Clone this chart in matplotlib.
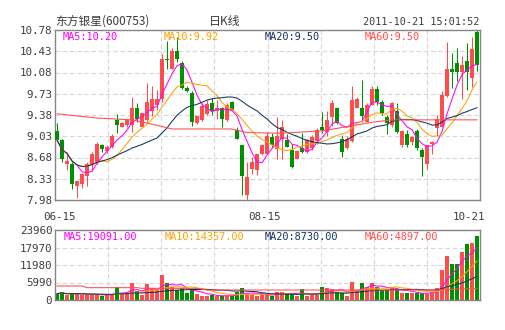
import numpy as np
import pandas as pd
import matplotlib
matplotlib.use('Agg')
import matplotlib.pyplot as plt

# Daily candles for 600753, 2011-06-15 .. 2011-10-21
opens = [9.12, 8.96, 8.58, 8.58, 8.21, 8.25, 8.37, 8.55, 8.61, 8.88,
         8.78, 8.86, 9.29, 9.19, 9.22, 9.21, 9.49, 9.19, 9.29, 9.45,
         9.54, 9.64, 10.31, 10.13, 10.43, 10.24, 9.83, 9.75, 9.24, 9.29,
         9.40, 9.57, 9.44, 9.49, 9.29, 9.60, 9.14, 8.88, 8.07, 8.49,
         8.47, 8.74, 8.74, 9.01, 8.82, 8.99, 8.97, 8.81, 8.66, 8.84,
         8.77, 8.83, 8.95, 9.19, 9.10, 9.35, 9.49, 8.99, 8.83, 8.95,
         9.50, 9.50, 9.27, 9.55, 9.81, 9.60, 9.34, 9.21, 9.44, 8.88,
         9.07, 8.94, 9.12, 8.80, 8.57, 8.90, 9.16, 9.19, 9.70, 10.14,
         10.24, 10.09, 10.27, 9.99, 10.74]
highs = [9.25, 8.99, 8.77, 8.61, 8.30, 8.42, 8.61, 8.77, 8.93, 8.91,
         8.88, 9.06, 9.39, 9.27, 9.31, 9.67, 9.58, 9.43, 9.91, 9.86,
         9.80, 10.38, 10.60, 10.49, 10.66, 10.27, 9.85, 9.77, 9.38, 9.58,
         9.63, 9.66, 9.63, 9.52, 9.57, 9.61, 9.19, 8.88, 8.60, 8.69,
         8.74, 8.90, 9.10, 9.08, 9.35, 9.30, 9.06, 8.90, 8.80, 9.08,
         8.99, 9.05, 9.16, 9.43, 9.44, 9.63, 9.52, 9.05, 9.03, 9.85,
         9.67, 9.96, 9.57, 9.86, 9.85, 9.63, 9.38, 9.59, 9.57, 9.14,
         9.13, 9.04, 9.15, 8.83, 8.89, 8.95, 9.38, 9.78, 10.59, 10.40,
         10.49, 10.36, 10.57, 10.66, 10.78]
lows = [8.97, 8.61, 8.47, 8.16, 8.02, 8.18, 8.21, 8.46, 8.58, 8.77,
        8.76, 8.83, 9.09, 9.18, 9.19, 9.10, 9.27, 9.18, 9.27, 9.37,
        9.46, 9.60, 10.13, 10.13, 10.25, 9.81, 9.76, 9.20, 9.23, 9.28,
        9.38, 9.38, 9.32, 9.19, 9.28, 9.46, 8.98, 8.07, 7.98, 8.41,
        8.40, 8.72, 8.73, 8.86, 8.66, 8.65, 8.85, 8.51, 8.65, 8.76,
        8.76, 8.80, 8.91, 9.08, 9.03, 9.20, 9.24, 8.69, 8.82, 8.94,
        9.49, 9.27, 9.26, 9.54, 9.55, 9.38, 9.07, 9.19, 9.09, 8.85,
        8.86, 8.88, 8.80, 8.38, 8.49, 8.73, 9.03, 9.18, 9.68, 9.82,
        9.94, 9.64, 9.80, 9.84, 10.10]
closes = [8.97, 8.65, 8.62, 8.25, 8.30, 8.40, 8.58, 8.73, 8.91, 8.82,
          8.86, 9.04, 9.21, 9.25, 9.29, 9.49, 9.32, 9.42, 9.59, 9.64,
          9.64, 10.30, 10.28, 10.43, 10.30, 9.82, 9.78, 9.27, 9.37, 9.52,
          9.56, 9.44, 9.49, 9.32, 9.55, 9.47, 8.99, 8.38, 8.36, 8.60,
          8.73, 8.89, 9.03, 8.88, 9.03, 9.19, 8.86, 8.53, 8.79, 8.77,
          8.97, 9.01, 9.13, 9.14, 9.30, 9.57, 9.25, 8.77, 8.99, 9.62,
          9.64, 9.36, 9.55, 9.81, 9.60, 9.41, 9.24, 9.58, 9.10, 9.12,
          8.88, 9.02, 8.84, 8.68, 8.88, 8.94, 9.32, 9.71, 10.14, 10.09,
          10.09, 10.20, 10.09, 10.47, 10.21]
volumes = [2170, 2620, 1710, 2170, 2170, 1830, 1830, 1830, 1830, 1480,
           1830, 1830, 4450, 2170, 2510, 5820, 2970, 1830, 5480, 3650,
           3650, 8560, 5820, 4450, 3310, 4220, 2400, 3310, 2050, 1480,
           1480, 1600, 1260, 1480, 1480, 1480, 2620, 4110, 1830, 1830,
           1370, 1940, 1940, 1370, 2850, 2850, 1940, 2280, 1370, 3770,
           1370, 1600, 1710, 4450, 3990, 3650, 2850, 2280, 1370, 6160,
           3420, 5820, 4560, 5710, 4340, 3420, 3420, 4340, 3880, 2280,
           2280, 2280, 2510, 2280, 2050, 2850, 4110, 10270, 15060, 12320,
           12320, 16320, 19170, 19620, 22020]

# 60-day averages need history before the window, so they are kept as read values
ma60_days = [0, 8, 15, 20, 23, 35, 38, 45, 53, 59, 63, 67, 84]
ma60_price = [9.40, 9.33, 9.30, 9.21, 9.15, 9.15, 9.09, 9.08, 9.12, 9.20, 9.26, 9.30, 9.30]
vol_ma60_days = [0, 5, 6, 16, 17, 28, 30, 76, 84]
vol_ma60 = [4790, 4790, 4220, 4220, 3990, 3990, 3420, 3420, 3990]

price_ticks = [7.98, 8.33, 8.68, 9.03, 9.38, 9.73, 10.08, 10.43, 10.78]
vol_ticks = [0, 5990, 11980, 17970, 23960]
date_labels = ['06-15', '08-15', '10-21']
date_pos = [0.4, 41.5, 82.3]

price_legend = ['MA5:10.20', 'MA10:9.92', 'MA20:9.50', 'MA60:9.50']
vol_legend = ['MA5:19091.00', 'MA10:14357.00', 'MA20:8730.00', 'MA60:4897.00']

RED = '#ff4c4c'
GREEN = '#008f00'
MA_COLORS = ['#ff00ff', '#ffa200', '#0e3462', '#ff4c4c']
GRID = '#d6d6d6'
FRAME = '#858585'
TXT = '#3c3c3c'
MONO = 'DejaVu Sans Mono'
CJK = ['Noto Sans CJK SC', 'DejaVu Sans']

df = pd.DataFrame({'open': opens, 'high': highs, 'low': lows,
                   'close': closes, 'vol': volumes})
n = len(df)
xs = np.arange(n)
up = df['close'] >= df['open']
colors = np.where(up, RED, GREEN)

ma_price = [df['close'].rolling(w, min_periods=1).mean() for w in (5, 10, 20)]
ma_vol = [df['vol'].rolling(w, min_periods=1).mean() for w in (5, 10, 20)]

W, H = 505, 330
fig = plt.figure(figsize=(W / 100, H / 100), dpi=100)
fig.patch.set_facecolor('white')


def box(l, t, r, b):
    return [l / W, 1 - b / H, (r - l) / W, (b - t) / H]


ax = fig.add_axes(box(55, 30, 480, 200))
axv = fig.add_axes(box(55, 230, 480, 300))
xlim = (-0.4, n - 0.4)

for a, ticks, fmt in ((ax, price_ticks, '{:.2f}'), (axv, vol_ticks, '{:d}')):
    a.set_xlim(*xlim)
    a.set_ylim(ticks[0], ticks[-1])
    for t in ticks[1:-1]:
        a.axhline(t, color=GRID, lw=0.8, ls=(0, (4, 2.5)), zorder=0)
    for i in range(1, 8):
        a.axvline(xlim[0] + (xlim[1] - xlim[0]) * i / 8, color=GRID, lw=0.8,
                  ls=(0, (4, 2.5)), zorder=0)
    a.set_yticks(ticks)
    a.set_yticklabels([fmt.format(t) for t in ticks], family=MONO,
                      fontsize=7.8, color=TXT)
    a.tick_params(axis='y', length=0, pad=2)
    a.set_xticks([])
    for s in a.spines.values():
        s.set_color(FRAME)
        s.set_linewidth(1.0)

# candles
body = (df['close'] - df['open']).abs().clip(lower=0.008)
ax.vlines(xs, df['low'], df['high'], colors=colors, lw=0.75, zorder=2)
ax.bar(xs, body, bottom=np.minimum(df['open'], df['close']), width=0.8,
       color=colors, lw=0, zorder=3)
for line, c in zip(ma_price, MA_COLORS):
    ax.plot(xs, line, color=c, lw=0.75, zorder=4)
ax.plot(ma60_days, ma60_price, color=MA_COLORS[3], lw=0.75, zorder=4)

# volume
axv.bar(xs, df['vol'], width=0.8, color=colors, lw=0, zorder=2)
for line, c in zip(ma_vol, MA_COLORS):
    axv.plot(xs, line, color=c, lw=0.75, zorder=4)
axv.plot(vol_ma60_days, vol_ma60, color=MA_COLORS[3], lw=0.75, zorder=4)

# date labels under the price panel
for lab, p in zip(date_labels, date_pos):
    ax.text(p, -16.7 / 170, lab, transform=ax.get_xaxis_transform(),
            ha='center', va='center', family=MONO, fontsize=7.8, color=TXT)

# MA legends
for lx, lab, c in zip((63, 164, 265, 365), price_legend, MA_COLORS):
    fig.text(lx / W, 1 - 37 / H, lab, ha='left', va='center', family=MONO,
             fontsize=7.4, color=c)
for lx, lab, c in zip((64, 165, 265, 365), vol_legend, MA_COLORS):
    fig.text(lx / W, 1 - 237 / H, lab, ha='left', va='center', family=MONO,
             fontsize=7.4, color=c)

# header
fig.text(55 / W, 1 - 21.5 / H, '东方银星(600753)', ha='left', va='center',
         family=CJK, fontsize=8.5, color=TXT)
fig.text(225 / W, 1 - 21.5 / H, '日K线', ha='center', va='center',
         family=CJK, fontsize=8.6, color=TXT)
fig.text(479 / W, 1 - 22 / H, '2011-10-21 15:01:52', ha='right', va='center',
         family=MONO, fontsize=7.3, color=TXT)

fig.savefig('out.png', dpi=100, facecolor='white')
